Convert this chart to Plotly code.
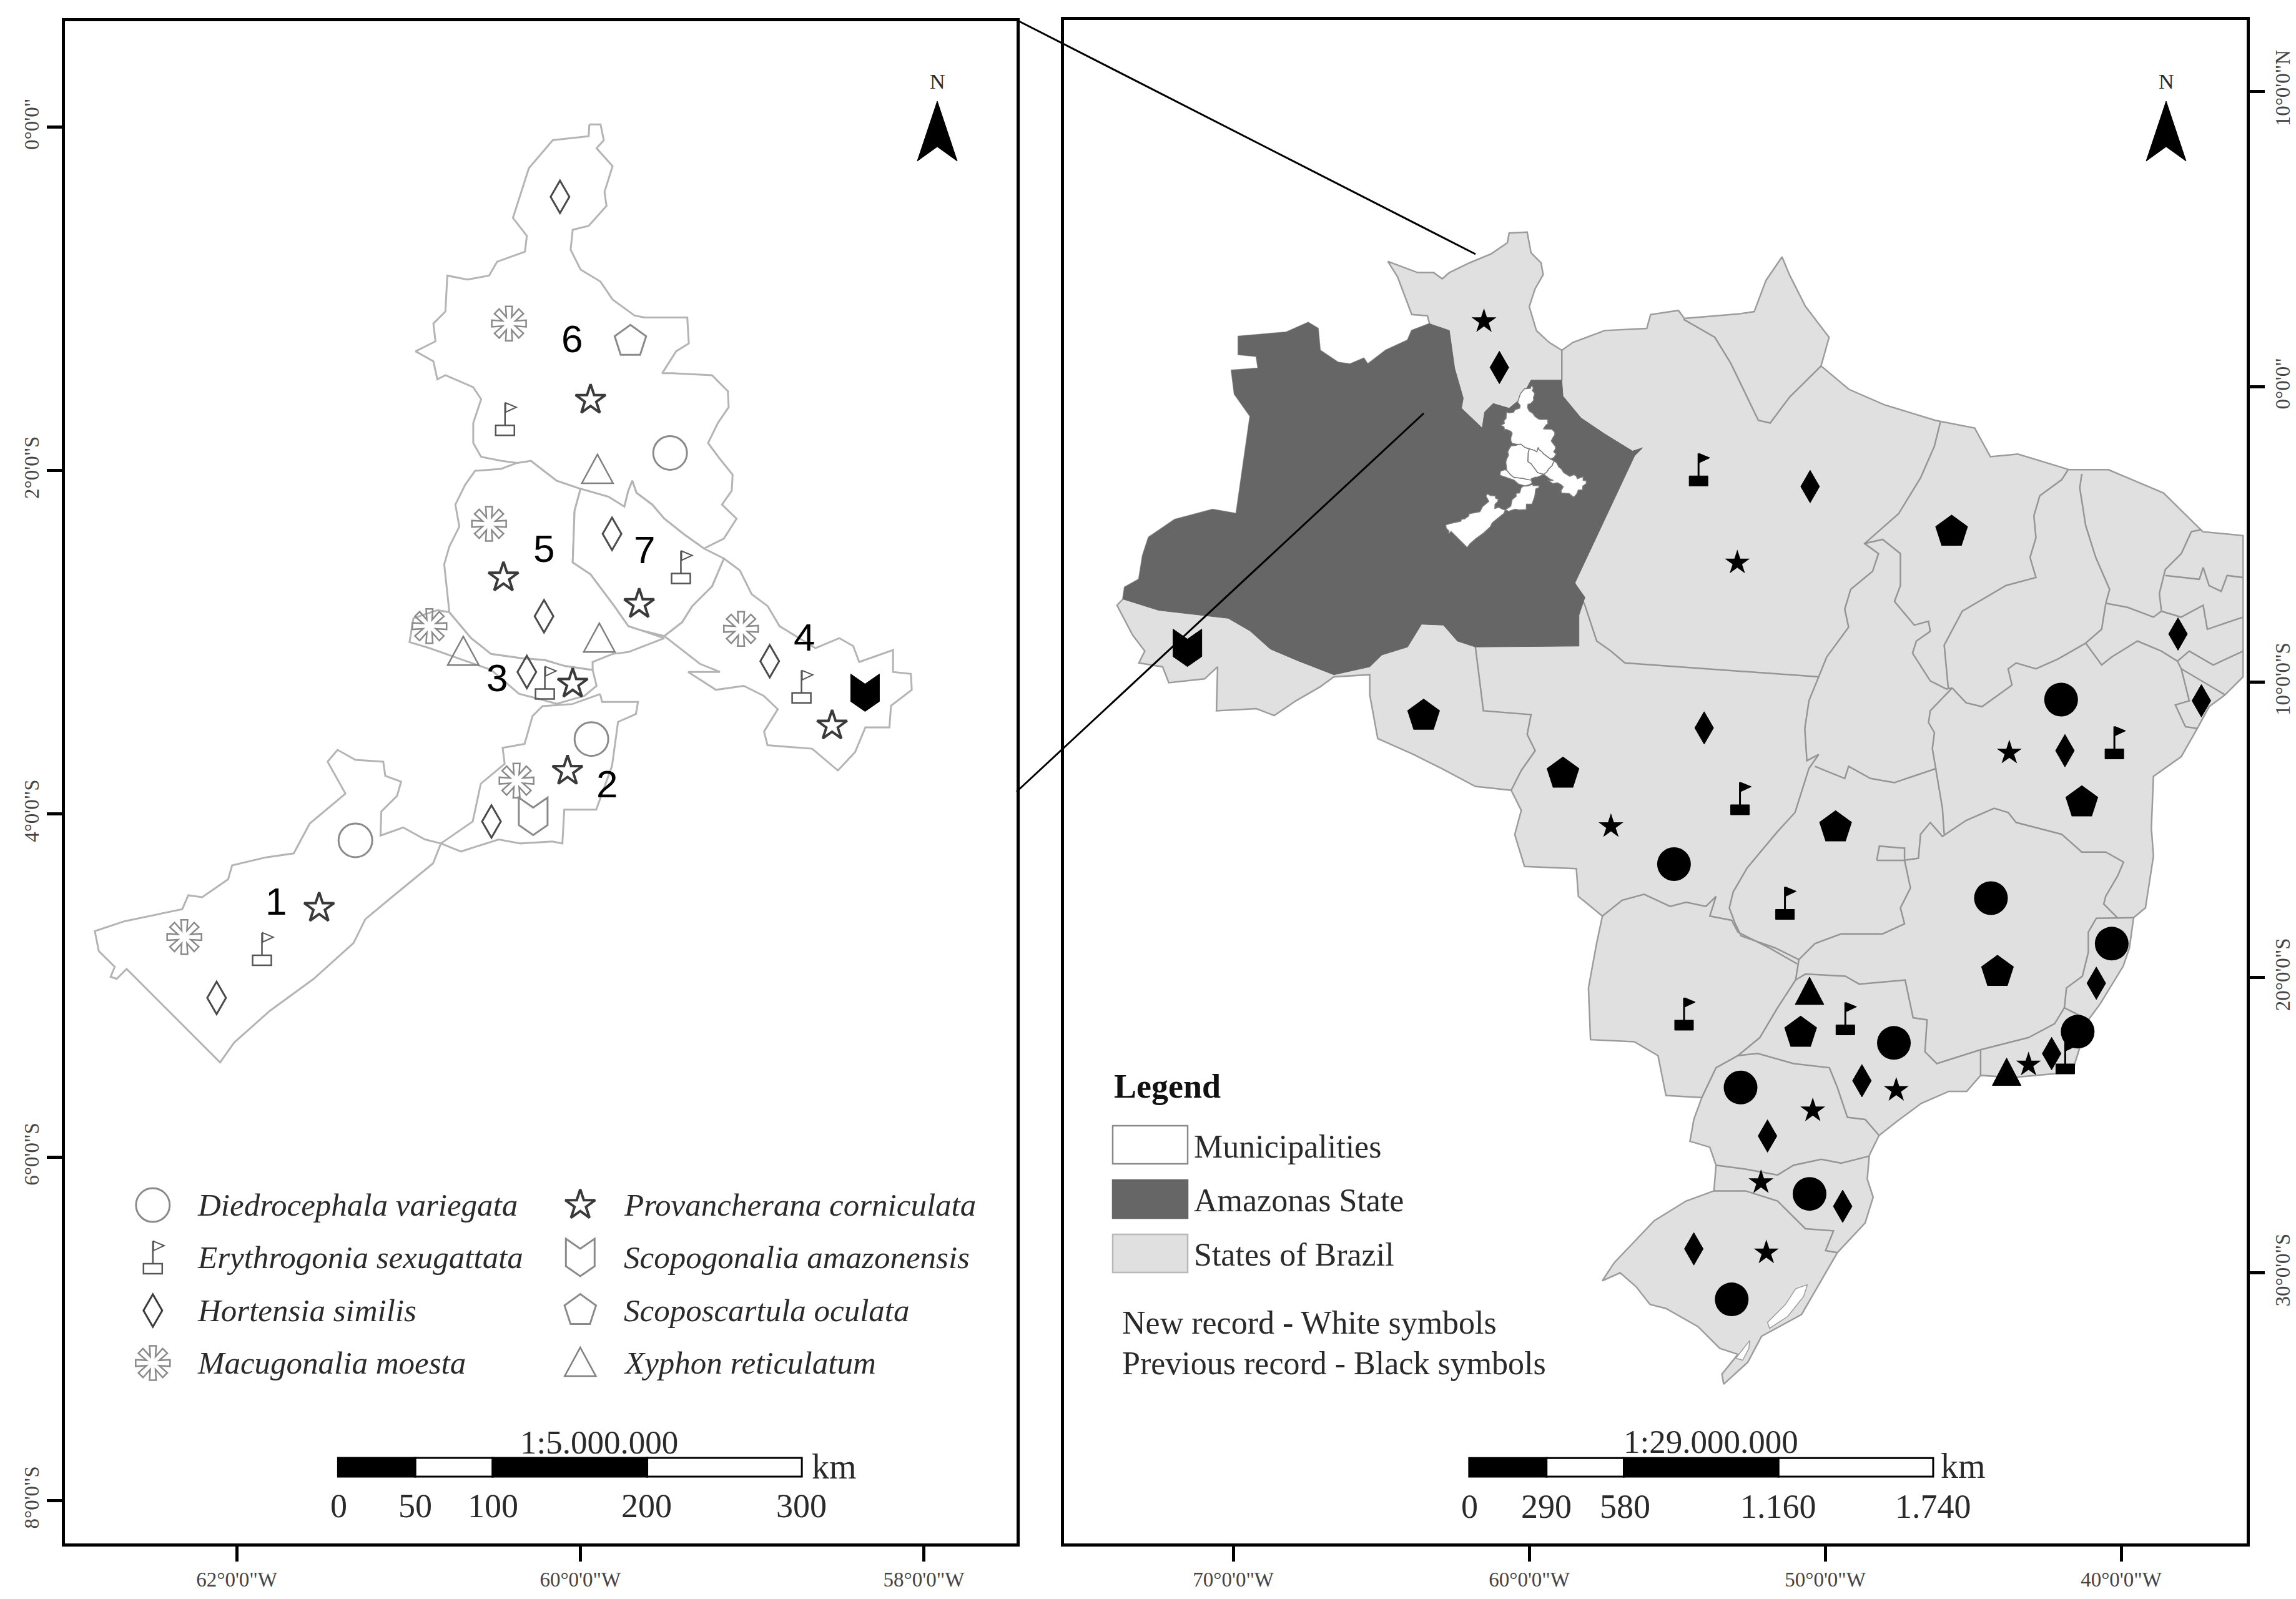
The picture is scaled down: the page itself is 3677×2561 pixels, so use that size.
import math
import plotly.graph_objects as go

W, H = 3677, 2561

# ---------- tick labels ----------
LEFT_X_TICKS = [-62, -60, -58]
LEFT_X_TEXT = ["62°0'0\"W", "60°0'0\"W", "58°0'0\"W"]
LEFT_Y_TICKS = [0, -2, -4, -6, -8]
LEFT_Y_TEXT = ["0°0'0\"", "2°0'0\"S", "4°0'0\"S", "6°0'0\"S", "8°0'0\"S"]
RIGHT_X_TICKS = [-70, -60, -50, -40]
RIGHT_X_TEXT = ["70°0'0\"W", "60°0'0\"W", "50°0'0\"W", "40°0'0\"W"]
RIGHT_Y_TICKS = [10, 0, -10, -20, -30]
RIGHT_Y_TEXT = ["10°0'0\"N", "0°0'0\"", "10°0'0\"S", "20°0'0\"S", "30°0'0\"S"]

# ---------- outlines (lon, lat) ----------
BRAZIL = [
 (-64.78,4.24),(-64.31,4.06),(-63.77,3.86),(-63.23,3.86),(-62.94,3.65),(-62.70,3.86),(-62.02,4.19),(-61.28,4.50),
 (-60.74,4.87),(-60.68,5.20),(-60.07,5.23),(-59.94,4.53),(-59.60,4.19),(-59.53,3.79),(-59.80,3.32),(-60.00,2.71),
 (-59.76,1.90),(-59.33,1.50),(-58.90,1.23),(-58.52,1.50),(-57.45,1.90),(-56.03,1.97),(-55.90,2.44),(-54.96,2.58),
 (-54.76,2.31),(-52.93,2.46),(-52.40,2.54),(-52.00,3.60),(-51.46,4.39),(-51.20,3.77),(-50.67,2.72),(-49.87,1.67),
 (-50.14,0.70),(-49.20,-0.09),(-48.01,-0.61),(-46.28,-1.14),(-44.95,-1.40),(-44.42,-2.37),(-43.49,-2.28),
 (-41.76,-2.81),(-40.43,-2.81),(-38.57,-3.60),(-37.24,-4.91),(-35.88,-5.04),(-35.88,-9.82),(-36.49,-10.43),
 (-37.03,-10.83),(-37.43,-11.57),(-37.97,-12.52),(-38.91,-13.19),(-38.98,-14.94),(-38.91,-15.89),(-39.18,-17.64),
 (-39.58,-17.97),(-39.72,-18.99),(-39.93,-19.61),(-40.71,-20.89),(-41.11,-21.43),(-41.65,-23.18),(-42.19,-23.25),
 (-43.67,-23.38),(-44.75,-23.31),(-45.22,-23.85),(-45.82,-23.85),(-46.76,-24.26),(-47.57,-24.86),(-48.18,-25.34),
 (-48.51,-26.01),(-48.58,-26.82),(-48.38,-27.43),(-48.65,-28.30),(-49.59,-29.31),(-50.26,-30.46),(-50.80,-31.40),
 (-52.15,-32.14),(-52.62,-33.02),(-53.43,-33.76),(-53.49,-33.42),(-52.95,-32.75),(-53.56,-32.55),(-54.30,-31.81),
 (-55.38,-31.20),(-55.92,-31.06),(-56.39,-30.46),(-56.93,-29.99),(-57.53,-30.26),(-57.13,-29.65),(-55.78,-28.23),
 (-54.70,-27.56),(-53.76,-27.22),(-53.69,-26.35),(-53.90,-25.74),(-54.57,-25.54),(-54.44,-24.80),(-54.17,-24.06),
 (-55.38,-23.99),(-55.65,-22.64),(-56.45,-22.17),(-57.93,-22.10),(-58.00,-20.35),(-57.73,-18.87),(-57.53,-17.92),
 (-58.34,-17.25),(-58.41,-16.31),(-60.16,-16.24),(-60.49,-15.16),(-60.27,-14.34),(-60.61,-13.66),(-61.82,-13.53),
 (-62.97,-12.92),(-63.91,-12.45),(-65.12,-11.91),(-65.39,-10.43),(-65.39,-9.75),(-66.60,-9.82),(-67.07,-10.16),
 (-67.88,-10.63),(-68.62,-11.13),(-69.22,-10.90),(-70.57,-10.97),(-70.53,-9.48),(-70.97,-9.89),(-72.18,-10.02),
 (-72.39,-9.48),(-73.19,-9.35),(-72.99,-8.95),(-73.40,-8.41),(-73.93,-7.40),(-73.73,-7.19),(-73.67,-6.79),
 (-73.19,-6.52),(-73.06,-5.71),(-72.86,-5.10),(-71.98,-4.50),(-70.70,-4.16),(-69.90,-4.30),(-69.43,-1.00),
 (-69.96,-0.25),(-70.06,0.55),(-69.16,0.62),(-69.22,1.03),(-69.83,1.09),(-69.83,1.70),(-68.21,1.84),(-67.47,2.17),
 (-67.14,1.97),(-67.07,1.23),(-66.46,0.82),(-66.06,0.76),(-65.59,0.96),(-65.46,0.76),(-64.85,1.23),(-64.11,1.57),
 (-63.97,1.90),(-63.37,2.13),(-63.44,2.40),(-63.97,2.44),(-64.24,3.18),(-64.45,3.72),
]
AMAZONAS = [
 (-69.83,1.70),(-68.21,1.84),(-67.47,2.17),(-67.14,1.97),(-67.07,1.23),(-66.46,0.82),(-66.06,0.76),(-65.59,0.96),
 (-65.46,0.76),(-64.85,1.23),(-64.11,1.57),(-63.97,1.90),(-63.37,2.13),(-62.70,1.90),(-62.52,0.62),(-62.23,-0.39),
 (-62.29,-0.73),(-61.59,-1.40),(-61.51,-0.86),(-61.22,-0.57),(-60.68,-0.73),(-60.27,-0.39),(-59.94,0.22),(-58.90,0.22),
 (-58.86,-0.32),(-58.25,-1.06),(-57.45,-1.60),(-56.51,-2.18),(-56.17,-2.07),(-56.44,-2.34),(-58.46,-6.65),(-58.12,-7.13),
 (-58.32,-7.73),(-58.32,-8.78),(-61.82,-8.81),(-62.43,-8.61),(-62.90,-8.07),(-63.64,-8.04),(-64.11,-8.81),(-64.98,-9.08),
 (-65.39,-9.48),(-66.60,-9.75),(-67.81,-9.28),(-68.75,-8.88),(-69.43,-8.27),(-70.17,-7.84),(-72.52,-7.57),(-73.73,-7.19),
 (-73.67,-6.79),(-73.19,-6.52),(-73.06,-5.71),(-72.86,-5.10),(-71.98,-4.50),(-70.70,-4.16),(-69.90,-4.30),(-69.43,-1.00),
 (-69.96,-0.25),(-70.06,0.55),(-69.16,0.62),(-69.22,1.03),(-69.83,1.09),
]
# state borders inside Brazil
BORDERS = [
 [(-58.90,1.23),(-58.90,0.22)],
 [(-54.79,2.28),(-53.73,1.67),(-53.19,0.79),(-52.26,-1.14),(-51.86,-1.23),(-51.20,-0.35),(-50.14,0.70)],
 [(-46.11,-1.20),(-46.31,-2.01),(-46.78,-3.09),(-47.52,-4.30),(-48.67,-5.31),(-48.20,-5.65),(-48.40,-6.25),(-49.14,-6.86),
  (-49.34,-7.53),(-49.21,-8.14),(-49.95,-9.15),(-50.22,-9.82),(-50.55,-10.63),(-50.69,-11.57),(-50.62,-12.66),(-50.22,-12.45),
  (-50.55,-12.92),(-51.02,-14.41),(-51.63,-15.08),(-52.64,-16.29),(-53.11,-17.10),(-53.24,-17.64),(-53.04,-18.18),(-52.84,-18.59),
  (-51.70,-18.99),(-50.89,-19.39),(-51.00,-20.08),(-51.61,-21.02),(-52.21,-22.03),(-52.95,-22.64),(-53.69,-23.05),(-54.17,-24.06)],
 [(-50.22,-9.82),(-56.77,-9.35),(-57.24,-8.95),(-57.72,-8.61),(-58.12,-7.40),(-58.46,-6.65)],
 [(-61.82,-8.81),(-61.55,-10.97),(-59.94,-11.10),(-60.07,-11.77),(-59.80,-12.32),(-60.27,-12.99),(-60.61,-13.66)],
 [(-57.53,-17.92),(-56.86,-17.38),(-56.12,-17.18),(-55.24,-17.59),(-54.70,-17.45),(-54.03,-17.59),(-53.69,-17.25),(-53.90,-17.92),
  (-53.16,-18.06),(-52.95,-18.46),(-51.88,-19.00),(-50.94,-19.54)],
 [(-50.89,-19.39),(-50.35,-18.85),(-49.47,-18.52),(-48.06,-18.52),(-47.32,-18.18),(-47.46,-17.64),(-47.12,-16.97),(-47.32,-16.03),
  (-46.85,-15.96),(-46.78,-15.15),(-46.45,-14.75),(-46.04,-15.22),(-45.24,-14.68),(-44.29,-14.27),(-43.82,-14.41),(-43.55,-14.75),
  (-42.01,-15.15),(-41.33,-15.75),(-40.52,-15.75),(-39.92,-16.09),(-40.12,-16.56),(-40.52,-17.24),(-40.59,-17.51),(-40.12,-17.98),(-39.58,-17.97)],
 [(-40.12,-17.98),(-40.84,-17.99),(-41.11,-18.46),(-41.11,-19.14),(-41.31,-19.95),(-41.85,-20.35),(-41.92,-21.02),(-42.25,-21.56),
  (-43.13,-22.03),(-44.75,-22.44),(-46.23,-22.91),(-46.63,-22.51),(-46.56,-21.43),(-47.03,-21.36),(-47.30,-20.08),(-48.85,-20.22),
  (-49.32,-19.95),(-50.67,-19.88),(-51.00,-20.08)],
 [(-41.92,-21.02),(-41.11,-21.43)],
 [(-44.75,-22.44),(-44.75,-23.31)],
 [(-52.95,-22.64),(-52.28,-22.57),(-51.07,-22.91),(-49.86,-23.05),(-49.59,-23.72),(-49.25,-24.73),(-48.65,-24.80),(-48.18,-25.34)],
 [(-53.69,-26.35),(-52.69,-26.48),(-51.61,-26.68),(-51.07,-26.35),(-50.13,-26.15),(-49.46,-26.28),(-48.51,-26.04)],
 [(-53.76,-27.22),(-52.69,-27.22),(-51.61,-27.56),(-50.67,-28.50),(-49.72,-28.57),(-49.99,-29.24),(-49.59,-29.31)],
 [(-48.67,-5.31),(-48.06,-5.17),(-47.46,-5.65),(-47.46,-6.73),(-47.66,-7.27),(-46.99,-8.07),(-46.51,-7.94),(-46.45,-8.28),
  (-46.92,-8.61),(-47.05,-9.02),(-46.45,-9.96),(-45.91,-10.23),(-45.71,-10.20),(-46.45,-10.97),(-46.51,-11.37),(-46.31,-11.71),
  (-46.38,-12.25),(-46.24,-13.06),(-46.04,-14.27),(-45.98,-15.15)],
 [(-50.35,-12.85),(-49.34,-13.26),(-49.21,-12.85),(-48.47,-13.26),(-47.66,-13.40),(-46.24,-12.92)],
 [(-48.26,-16.03),(-48.17,-15.55),(-47.32,-15.62),(-47.32,-16.03),(-48.26,-16.03)],
 [(-41.80,-2.82),(-42.01,-3.15),(-42.75,-3.69),(-42.95,-4.37),(-42.88,-5.11),(-43.08,-5.78),(-42.88,-6.46),(-43.89,-6.73),
  (-45.37,-7.60),(-45.98,-8.75),(-45.84,-10.23)],
 [(-41.33,-2.95),(-41.40,-3.42),(-41.20,-4.70),(-40.86,-5.78),(-40.39,-6.86),(-40.52,-7.33),(-40.66,-8.21),(-41.20,-8.68)],
 [(-41.20,-8.68),(-42.14,-9.22),(-42.88,-9.55),(-43.55,-9.35),(-43.82,-9.55),(-43.69,-10.10),(-44.70,-10.83),(-45.24,-10.70),(-45.71,-10.20)],
 [(-40.52,-7.33),(-39.78,-7.47),(-38.91,-7.80),(-38.64,-7.60),(-37.97,-7.80),(-37.23,-7.40),(-37.09,-8.21),(-35.88,-7.80)],
 [(-37.29,-4.84),(-37.63,-4.91),(-37.97,-5.65),(-38.51,-6.19),(-38.71,-7.00),(-38.64,-7.60)],
 [(-38.51,-6.39),(-37.36,-6.52),(-37.23,-6.12),(-37.03,-6.73),(-36.62,-6.93),(-36.42,-6.39),(-35.88,-6.46)],
 [(-41.20,-8.68),(-40.66,-9.42),(-40.32,-9.15),(-39.45,-8.61),(-38.64,-8.95),(-38.10,-9.29),(-37.70,-8.95),(-36.89,-9.42),(-35.88,-8.95)],
 [(-38.10,-9.29),(-37.97,-9.55),(-36.49,-10.43)],
 [(-37.97,-9.55),(-37.70,-10.63),(-38.17,-10.77),(-37.83,-11.51),(-37.43,-11.57)],
]
LAGOA_PATOS = [(-50.60,-30.39),(-51.00,-30.53),(-51.34,-31.06),(-51.95,-31.67),(-51.88,-31.87),(-51.27,-31.47),(-50.73,-30.79)]
LAGOA_MIRIM = [(-52.55,-32.28),(-53.02,-32.88),(-52.79,-32.95),(-52.58,-32.55)]

MUNI_1 = [(-60.811,-4.172),(-60.857,-4.288),(-61.112,-4.497),(-61.251,-4.613),(-61.320,-4.752),(-61.552,-4.961),(-61.807,-5.147),
 (-62.015,-5.332),(-62.097,-5.448),(-62.641,-4.903),(-62.699,-4.961),(-62.734,-4.949),(-62.710,-4.891),(-62.803,-4.799),(-62.826,-4.683),
 (-62.652,-4.625),(-62.317,-4.555),(-62.282,-4.474),(-62.201,-4.485),(-62.050,-4.381),(-62.027,-4.300),(-61.830,-4.253),(-61.668,-4.230),
 (-61.575,-4.056),(-61.367,-3.882),(-61.471,-3.696),(-61.413,-3.627),(-61.309,-3.685),(-61.147,-3.696),(-61.135,-3.778),(-61.043,-3.812),
 (-61.066,-3.894),(-61.158,-3.986),(-61.163,-4.126),(-61.031,-4.079),(-60.904,-4.149)]
MUNI_2 = [(-59.884,-3.302),(-59.873,-3.348),(-59.664,-3.348),(-59.676,-3.418),(-59.780,-3.464),(-59.815,-3.720),(-59.907,-3.975),
 (-60.093,-3.975),(-60.104,-4.172),(-60.162,-4.161),(-60.348,-4.172),(-60.475,-4.149),(-60.695,-4.219),(-60.811,-4.172),(-60.626,-4.044),
 (-60.579,-3.824),(-60.440,-3.708),(-60.452,-3.615),(-60.324,-3.592),(-60.278,-3.430),(-60.220,-3.372),(-60.046,-3.360)]
MUNI_3 = [(-60.762,-2.825),(-60.635,-2.976),(-60.519,-3.068),(-60.345,-3.092),(-60.206,-3.103),(-60.090,-3.138),(-59.928,-3.161),
 (-59.905,-3.254),(-59.975,-3.312),(-60.137,-3.358),(-60.264,-3.324),(-60.357,-3.300),(-60.519,-3.161),(-60.716,-3.092),(-60.878,-3.034),
 (-60.994,-2.999),(-60.971,-2.860),(-60.832,-2.813)]
MUNI_4 = [(-59.164,-2.512),(-59.071,-2.581),(-59.002,-2.720),(-58.909,-2.789),(-58.840,-2.906),(-58.631,-3.034),(-58.492,-2.976),
 (-58.411,-3.022),(-58.376,-3.115),(-58.179,-3.045),(-58.179,-3.173),(-58.075,-3.184),(-58.070,-3.277),(-58.191,-3.370),(-58.20,-3.496),
 (-58.34,-3.496),(-58.40,-3.64),(-58.50,-3.747),(-58.65,-3.62),(-58.91,-3.60),(-58.93,-3.52),(-58.85,-3.39),(-58.932,-3.312),(-59.048,-3.254),
 (-59.210,-3.277),(-59.372,-3.173),(-59.187,-3.173),(-59.303,-3.126),(-59.511,-2.964),(-59.407,-2.883),(-59.349,-2.790),(-59.233,-2.674)]
MUNI_5 = [(-60.287,-1.943),(-60.368,-1.955),(-60.461,-1.990),(-60.612,-2.001),(-60.670,-2.082),(-60.727,-2.198),(-60.704,-2.326),
 (-60.762,-2.442),(-60.792,-2.546),(-60.762,-2.825),(-60.635,-2.976),(-60.519,-3.068),(-60.345,-3.092),(-60.206,-3.103),(-60.090,-3.138),
 (-59.928,-3.161),(-59.928,-3.115),(-59.812,-3.068),(-59.720,-3.057),(-59.511,-2.976),(-59.650,-2.929),(-59.720,-2.906),(-59.801,-2.790),
 (-59.940,-2.604),(-60.044,-2.535),(-60.033,-2.233),(-59.998,-2.106),(-60.137,-2.059)]
MUNI_6 = [(-59.947,0.017),(-59.882,0.017),(-59.863,-0.075),(-59.905,-0.122),(-59.812,-0.226),(-59.859,-0.377),(-59.847,-0.458),
 (-59.951,-0.574),(-60.044,-0.597),(-60.056,-0.713),(-59.998,-0.829),(-59.882,-0.899),(-59.812,-1.003),(-59.685,-1.096),(-59.627,-1.108),
 (-59.377,-1.108),(-59.368,-1.259),(-59.442,-1.305),(-59.523,-1.433),(-59.465,-1.433),(-59.233,-1.444),(-59.141,-1.537),(-59.136,-1.630),
 (-59.199,-1.723),(-59.256,-1.839),(-59.187,-1.932),(-59.113,-2.024),(-59.118,-2.117),(-59.175,-2.198),(-59.090,-2.280),(-59.164,-2.396),
 (-59.280,-2.454),(-59.395,-2.372),(-59.511,-2.280),(-59.581,-2.198),(-59.673,-2.129),(-59.697,-2.059),(-59.720,-2.117),(-59.743,-2.210),
 (-59.836,-2.152),(-59.998,-2.106),(-60.137,-2.059),(-60.287,-1.943),(-60.368,-1.955),(-60.461,-1.943),(-60.577,-1.920),(-60.623,-1.839),
 (-60.623,-1.723),(-60.577,-1.584),(-60.623,-1.514),(-60.785,-1.444),(-60.832,-1.468),(-60.855,-1.363),(-60.959,-1.305),(-60.843,-1.247),
 (-60.855,-1.143),(-60.785,-1.073),(-60.774,-0.864),(-60.658,-0.887),(-60.531,-0.864),(-60.484,-0.783),(-60.322,-0.725),(-60.311,-0.632),
 (-60.392,-0.528),(-60.299,-0.238),(-60.160,-0.075),(-59.951,-0.052)]
MUNI_7 = [(-59.998,-2.106),(-60.033,-2.233),(-60.044,-2.535),(-59.940,-2.604),(-59.801,-2.790),(-59.720,-2.906),(-59.650,-2.929),
 (-59.511,-2.964),(-59.407,-2.883),(-59.349,-2.790),(-59.233,-2.674),(-59.164,-2.512),(-59.280,-2.454),(-59.395,-2.372),(-59.511,-2.280),
 (-59.581,-2.198),(-59.673,-2.129),(-59.697,-2.059),(-59.720,-2.117),(-59.743,-2.210),(-59.836,-2.152)]
MUNICIPALITIES = [MUNI_1, MUNI_2, MUNI_3, MUNI_4, MUNI_5, MUNI_6, MUNI_7]

# ---------- records: new (white symbols, left map) ----------
NEW_DIEDROCEPHALA = [(-59.477,-1.897),(-59.935,-3.564),(-61.309,-4.154)]
NEW_ERYTHROGONIA = [(-60.438,-1.700),(-59.414,-2.563),(-60.206,-3.236),(-58.712,-3.259),(-61.853,-4.787)]
NEW_HORTENSIA = [(-60.118,-0.405),(-59.815,-2.368),(-60.211,-2.848),(-60.311,-3.173),(-58.897,-3.110),(-60.517,-4.044),(-62.117,-5.072)]
NEW_MACUGONALIA = [(-60.415,-1.143),(-60.531,-2.310),(-60.878,-2.906),(-59.064,-2.922),(-60.371,-3.806),(-62.305,-4.717)]
NEW_PROVANCHERANA = [(-59.940,-1.588),(-60.447,-2.623),(-59.657,-2.778),(-60.044,-3.242),(-58.534,-3.486),(-60.074,-3.750),(-61.520,-4.548)]
NEW_SCOPOGONALIA = [(-60.274,-4.014)]
NEW_SCOPOSCARTULA = [(-59.708,-1.247)]
NEW_XYPHON = [(-59.900,-1.997),(-59.889,-2.980),(-60.681,-3.057)]
LEFT_OLD_SCOPOGONALIA = [(-58.342,-3.294)]

# ---------- records: previous (black symbols, right map) ----------
OLD_DIEDROCEPHALA = [(-42.03,-10.59),(-55.11,-16.16),(-44.40,-17.31),(-40.32,-18.85),(-47.68,-22.21),(-52.86,-23.72),(-50.53,-27.32),(-53.16,-30.89),(-41.47,-21.83)]
OLD_ERYTHROGONIA = [(-54.28,-2.81),(-40.23,-12.05),(-52.88,-13.94),(-51.36,-17.48),(-49.32,-21.39),(-54.77,-21.23),(-41.89,-22.71)]
OLD_HORTENSIA = [(-61.01,0.65),(-50.51,-3.38),(-38.08,-8.37),(-37.29,-10.63),(-41.90,-12.32),(-54.09,-11.55),(-48.76,-23.49),(-51.95,-25.36),(-49.41,-27.74),(-54.44,-29.18),(-42.35,-22.57),(-40.84,-20.19)]
OLD_PROVANCHERANA = [(-61.53,2.21),(-52.97,-5.96),(-43.78,-12.39),(-57.24,-14.88),(-47.60,-23.81),(-50.42,-24.50),(-52.17,-26.93),(-51.99,-29.31),(-43.13,-22.95)]
OLD_SCOPOGONALIA = [(-71.55,-8.84)]
OLD_SCOPOSCARTULA = [(-63.57,-11.14),(-58.86,-13.10),(-45.73,-4.91),(-41.33,-14.07),(-49.65,-14.92),(-44.18,-19.81),(-50.83,-21.87)]
OLD_XYPHON = [(-50.53,-20.51),(-43.87,-23.25)]

# ---------- text ----------
MUNI_LABELS = [("1",-61.772,-4.509),("2",-59.843,-3.824),("3",-60.484,-3.208),("4",-58.696,-2.971),("5",-60.211,-2.454),("6",-60.049,-1.231),("7",-59.627,-2.461)]
SPECIES_COL1 = ["Diedrocephala variegata","Erythrogonia sexugattata","Hortensia similis","Macugonalia moesta"]
SPECIES_COL2 = ["Provancherana corniculata","Scopogonalia amazonensis","Scoposcartula oculata","Xyphon reticulatum"]
LEFT_SCALE_KM = [0,50,100,200,300]
RIGHT_SCALE_KM = [0,290,580,1160,1740]
LEFT_SCALE_TEXT = ["0","50","100","200","300"]
RIGHT_SCALE_TEXT = ["0","290","580","1.160","1.740"]
LEGEND_ITEMS = ["Municipalities","Amazonas State","States of Brazil"]
NOTES = ["New record - White symbols","Previous record - Black symbols"]

SERIF = "Liberation Serif"
TXT = "#2a2a2a"
fig = go.Figure()

def xs(p): return [a for a,b in p]
def ys(p): return [b for a,b in p]
def closed(p): return p+[p[0]]
def px(X): return X/W
def py(Y): return 1-Y/H

def poly(p, fill, line, width, xa, ya):
    q = closed(p)
    fig.add_trace(go.Scatter(x=xs(q), y=ys(q), mode="lines", fill="toself", fillcolor=fill,
        line=dict(color=line, width=width), xaxis=xa, yaxis=ya, hoverinfo="skip", showlegend=False))

def lines(p, color, width, xa, ya):
    fig.add_trace(go.Scatter(x=xs(p), y=ys(p), mode="lines", line=dict(color=color, width=width),
        xaxis=xa, yaxis=ya, hoverinfo="skip", showlegend=False))

def marks(p, sym, size, color, lw, lc, xa, ya):
    fig.add_trace(go.Scatter(x=xs(p), y=ys(p), mode="markers",
        marker=dict(symbol=sym, size=size, color=color, line=dict(width=lw, color=lc)),
        xaxis=xa, yaxis=ya, hoverinfo="skip", showlegend=False))

# right map
poly(BRAZIL, "#e0e0e0", "#9c9c9c", 2.5, "x2", "y2")
for b in BORDERS:
    lines(b, "#959595", 2.5, "x2", "y2")
poly(AMAZONAS, "#666666", "#666666", 1, "x2", "y2")
poly(LAGOA_PATOS, "#ffffff", "#9c9c9c", 1.5, "x2", "y2")
poly(LAGOA_MIRIM, "#ffffff", "#9c9c9c", 1.5, "x2", "y2")
for m in MUNICIPALITIES:
    poly(m, "#ffffff", "#7a7a7a", 1.5, "x2", "y2")
# left map
for m in MUNICIPALITIES:
    poly(m, "#ffffff", "#b4b4b4", 3, "x", "y")

# pixel-anchored symbols
FLOWER = []
for k in range(8):
    a = k*math.pi/4
    for r, d in ((11,-22.5),(28,-11),(28,11)):
        t = a+math.radians(d)
        FLOWER.append((r*math.sin(t), r*math.cos(t)))
def path(points):
    return "M"+" L".join(f"{x:.1f},{y:.1f}" for x,y in points)+" Z"
GLYPHS = {
 "diamond": path([(0,26),(15,0),(0,-26),(-15,0)]),
 "triangle": path([(0,25),(25,-21),(-25,-21)]),
 "triangle_b": path([(0,25),(23,-19),(-23,-19)]),
 "shield": path([(-23,30),(0,14),(23,30),(23,-14),(0,-30),(-23,-14)]),
 "flower": path(FLOWER),
 "flag_rect": path([(-15,-10),(15,-10),(15,-26),(-15,-26)]),
 "flag_pole": path([(0,-10),(0,26)]),
 "flag_tri": path([(1,26),(18,19),(1,11)]),
 "north": path([(0,48),(32,-48),(0,-25),(-32,-48)]),
}
shapes = []
def glyph(name, x, y, xref, yref, fill, line, lw):
    shapes.append(dict(type="path", xref=xref, yref=yref, xsizemode="pixel", ysizemode="pixel",
        xanchor=x, yanchor=y, path=GLYPHS[name], fillcolor=fill, line=dict(color=line, width=lw), layer="above"))
def flag(x, y, xref, yref, filled, color="#555555"):
    if filled:
        glyph("flag_rect", x, y, xref, yref, "#000000", "#000000", 1)
        glyph("flag_pole", x, y, xref, yref, "rgba(0,0,0,0)", "#000000", 3)
        glyph("flag_tri", x, y, xref, yref, "#000000", "#000000", 1)
    else:
        glyph("flag_rect", x, y, xref, yref, "rgba(0,0,0,0)", color, 2.5)
        glyph("flag_pole", x, y, xref, yref, "rgba(0,0,0,0)", color, 2.5)
        glyph("flag_tri", x, y, xref, yref, "rgba(0,0,0,0)", color, 2)

OPEN = "rgba(0,0,0,0)"
GREY = "#8a8a8a"
DARK = "#3a3a3a"
# left symbols
marks(NEW_DIEDROCEPHALA, "circle-open", 54, GREY, 3, GREY, "x", "y")
marks(NEW_SCOPOSCARTULA, "pentagon-open", 53, GREY, 3, GREY, "x", "y")
marks(NEW_PROVANCHERANA, "star-open", 36, DARK, 4, DARK, "x", "y")
for lon, lat in NEW_HORTENSIA: glyph("diamond", lon, lat, "x", "y", OPEN, "#4a4a4a", 3)
for lon, lat in NEW_MACUGONALIA: glyph("flower", lon, lat, "x", "y", OPEN, GREY, 2.5)
for lon, lat in NEW_XYPHON: glyph("triangle", lon, lat, "x", "y", OPEN, "#808080", 2.5)
for lon, lat in NEW_SCOPOGONALIA: glyph("shield", lon, lat, "x", "y", OPEN, GREY, 3)
for lon, lat in LEFT_OLD_SCOPOGONALIA: glyph("shield", lon, lat, "x", "y", "#000000", "#000000", 1)
for lon, lat in NEW_ERYTHROGONIA: flag(lon, lat, "x", "y", False)
# right symbols
marks(OLD_DIEDROCEPHALA, "circle", 54, "#000000", 0, "#000000", "x2", "y2")
marks(OLD_SCOPOSCARTULA, "pentagon", 55, "#000000", 0, "#000000", "x2", "y2")
marks(OLD_PROVANCHERANA, "star", 30, "#000000", 0, "#000000", "x2", "y2")
for lon, lat in OLD_HORTENSIA: glyph("diamond", lon, lat, "x2", "y2", "#000000", "#000000", 1)
for lon, lat in OLD_XYPHON: glyph("triangle_b", lon, lat, "x2", "y2", "#000000", "#000000", 1)
for lon, lat in OLD_SCOPOGONALIA: glyph("shield", lon, lat, "x2", "y2", "#000000", "#000000", 1)
for lon, lat in OLD_ERYTHROGONIA: flag(lon, lat, "x2", "y2", True)

# leader lines
for X0, Y0, X1, Y1 in ((1628, 32, 2363, 407), (1628, 1268, 2280, 662)):
    shapes.append(dict(type="line", xref="paper", yref="paper", x0=px(X0), y0=py(Y0), x1=px(X1), y1=py(Y1),
        line=dict(color="#000000", width=3), layer="above"))
# north arrows
glyph("north", px(1501), py(210), "paper", "paper", "#000000", "#000000", 1)
glyph("north", px(3469), py(210), "paper", "paper", "#000000", "#000000", 1)

# scale bars, through each map's own axis
def scale_bar(km, lon0, per_km, lat0, lat1, xa, ya):
    for i in range(len(km)-1):
        shapes.append(dict(type="rect", xref=xa, yref=ya, x0=lon0+km[i]*per_km, x1=lon0+km[i+1]*per_km,
            y0=lat0, y1=lat1, fillcolor="#000000" if i%2==0 else "#ffffff",
            line=dict(color="#000000", width=3), layer="above"))
scale_bar(LEFT_SCALE_KM, -61.41, 0.0090, -7.752, -7.861, "x", "y")
scale_bar(RIGHT_SCALE_KM, -62.03, 0.00901, -36.26, -36.89, "x2", "y2")

# right-hand legend boxes
for (Y0, Y1), fill, line in zip(((1803,1864),(1890,1951),(1977,2038)), ("#ffffff","#666666","#e0e0e0"), ("#8a8a8a","#666666","#b8b8b8")):
    shapes.append(dict(type="rect", xref="paper", yref="paper", x0=px(1782), x1=px(1902), y0=py(Y0), y1=py(Y1),
        fillcolor=fill, line=dict(color=line, width=2.5), layer="above"))

anns = []
def text(t, X, Y, size, anchor="left", color=TXT, family=SERIF, italic=False, bold=False):
    s = t
    if italic: s = f"<i>{s}</i>"
    if bold: s = f"<b>{s}</b>"
    anns.append(dict(text=s, x=px(X), y=py(Y), xref="paper", yref="paper", xanchor=anchor, yanchor="middle",
        showarrow=False, font=dict(family=family, size=size, color=color)))

# municipality numbers
for t, lon, lat in MUNI_LABELS:
    anns.append(dict(text=t, x=lon, y=lat, xref="x", yref="y", showarrow=False, xanchor="center", yanchor="middle",
        font=dict(family="Liberation Sans", size=62, color="#000000")))

# species legend
ROWS = [1930, 2014, 2099, 2183]
for name, Y in zip(SPECIES_COL1, ROWS): text(name, 314, Y, 51, italic=True)
for name, Y in zip(SPECIES_COL2, ROWS): text(name, 997, Y, 51, italic=True)
def lon_of(X): return -62+(X-379.4)/275.3
def lat_of(Y): return (204-Y)/274.9
marks([(lon_of(245), lat_of(1930))], "circle-open", 54, GREY, 3, GREY, "x", "y")
flag(lon_of(245), lat_of(2014), "x", "y", False)
glyph("diamond", lon_of(245), lat_of(2099), "x", "y", OPEN, "#3a3a3a", 3)
glyph("flower", lon_of(245), lat_of(2183), "x", "y", OPEN, GREY, 2.5)
marks([(lon_of(930), lat_of(1930))], "star-open", 36, DARK, 4, DARK, "x", "y")
glyph("shield", lon_of(930), lat_of(2014), "x", "y", OPEN, GREY, 3)
marks([(lon_of(930), lat_of(2099))], "pentagon-open", 53, GREY, 3, GREY, "x", "y")
glyph("triangle", lon_of(930), lat_of(2183), "x", "y", OPEN, "#808080", 2.5)

# scale texts
for t, X in zip(LEFT_SCALE_TEXT, (542,665,789,1035,1283)): text(t, X, 2412, 54, "center")
for t, X in zip(RIGHT_SCALE_TEXT, (2353,2476,2602,2848,3096)): text(t, X, 2413, 54, "center")
text("km", 1298, 2349, 56)
text("km", 3106, 2348, 56)
text("1:5.000.000", 959, 2310, 53, "center")
text("1:29.000.000", 2740, 2309, 53, "center")
text("N", 1501, 130, 34, "center")
text("N", 3469, 130, 34, "center")

# right legend text
text("Legend", 1782, 1740, 54, bold=True, color="#111111")
for name, Y in zip(LEGEND_ITEMS, (1836,1922,2009)): text(name, 1910, Y, 52)
for name, Y in zip(NOTES, (2118,2183)): text(name, 1795, Y, 52)

tickfont = dict(family=SERIF, size=33, color="#444444")
def axis(**kw):
    return dict(showgrid=False, zeroline=False, showline=True, linecolor="#000000", linewidth=5, mirror=True,
                ticks="outside", ticklen=24, tickwidth=5, tickcolor="#000000", tickfont=tickfont, fixedrange=True, **kw)

fig.update_layout(
    width=W, height=H, autosize=False, margin=dict(l=0, r=0, t=0, b=0),
    paper_bgcolor="#ffffff", plot_bgcolor="#ffffff", showlegend=False, hovermode=False,
    shapes=shapes, annotations=anns,
    xaxis=axis(domain=[px(104), px(1628)], range=[-63.0, -57.46], tickvals=LEFT_X_TICKS, ticktext=LEFT_X_TEXT, tickangle=0, anchor="y"),
    yaxis=axis(domain=[py(2472), py(34)], range=[-8.25, 0.618], tickvals=LEFT_Y_TICKS, ticktext=LEFT_Y_TEXT, tickangle=-90, anchor="x"),
    xaxis2=axis(domain=[px(1704), px(3598)], range=[-75.72, -35.76], tickvals=RIGHT_X_TICKS, ticktext=RIGHT_X_TEXT, tickangle=0, anchor="y2"),
    yaxis2=axis(domain=[py(2472), py(32)], range=[-39.15, 12.41], tickvals=RIGHT_Y_TICKS, ticktext=RIGHT_Y_TEXT, tickangle=-90, anchor="x2", side="right"),
)
fig.write_html("out.html", post_script="document.body.style.margin='0';", config={"displayModeBar": False})
